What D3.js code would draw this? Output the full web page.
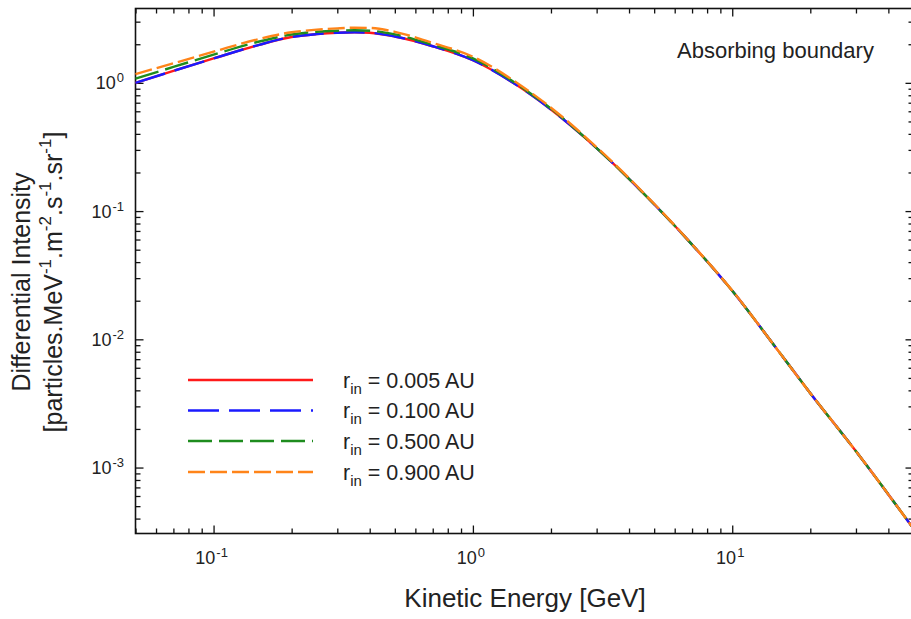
<!DOCTYPE html>
<html>
<head>
<meta charset="utf-8">
<script src="https://cdn.jsdelivr.net/npm/d3@7"></script>
<style>
  html, body { margin: 0; padding: 0; background: #fff; }
  svg { display: block; font-family: "Liberation Sans", Arial, sans-serif; }
</style>
</head>
<body>
<svg id="chart" width="911" height="619"></svg>
<script>
// ---------------- data ----------------
const energy = [0.05, 0.07, 0.1, 0.15, 0.2, 0.25, 0.3, 0.35, 0.4, 0.5, 0.7, 1.0, 1.5, 2.0, 3.0, 5.0, 7.0, 10, 15, 20, 30, 50];
const r005 = [1.00, 1.24, 1.55, 1.98, 2.28, 2.40, 2.46, 2.48, 2.46, 2.30, 1.93, 1.50, 0.94, 0.62, 0.31, 0.113, 0.0548, 0.0239, 0.0082, 0.0038, 0.00134, 0.000334];
const r100 = [1.00, 1.24, 1.55, 1.98, 2.28, 2.40, 2.46, 2.48, 2.46, 2.30, 1.93, 1.50, 0.94, 0.62, 0.31, 0.113, 0.0548, 0.0239, 0.0082, 0.0038, 0.00134, 0.000334];
const r500 = [1.08, 1.33, 1.66, 2.10, 2.38, 2.50, 2.55, 2.57, 2.55, 2.39, 1.98, 1.55, 0.96, 0.63, 0.31, 0.113, 0.0548, 0.0239, 0.0082, 0.0038, 0.00134, 0.000334];
const r900 = [1.17, 1.42, 1.75, 2.20, 2.48, 2.60, 2.66, 2.69, 2.68, 2.50, 2.05, 1.60, 0.98, 0.64, 0.315, 0.114, 0.0550, 0.0240, 0.0082, 0.0038, 0.00134, 0.000334];

const seriesNames = ["0.005", "0.100", "0.500", "0.900"];
const seriesValues = [r005, r100, r500, r900];
const seriesColors = ["#ff1a1a", "#1a1aff", "#1e8c1e", "#ff8419"];
const seriesDash = ["none", "31,10", "24,7", "17,5"];

const xTickValues = [0.1, 1, 10];
const xTickExp = ["-1", "0", "1"];
const yTickValues = [1e-3, 1e-2, 1e-1, 1];
const yTickExp = ["-3", "-2", "-1", "0"];

const xDomain = [0.05, 50];
const yDomain = [3.06e-4, 3.8];

// ---------------- layout ----------------
const L = 135.5, R = 913.5, T = 8.5, B = 533.5;
const svg = d3.select("#chart");

const x = d3.scaleLog().domain(xDomain).range([L, R]);
const y = d3.scaleLog().domain(yDomain).range([B, T]);

function minorTicks(domain) {
  const out = [];
  const lo = Math.floor(Math.log10(domain[0])), hi = Math.ceil(Math.log10(domain[1]));
  for (let e = lo; e <= hi; e++) {
    for (let m = 2; m <= 9; m++) {
      const v = m * Math.pow(10, e);
      if (v >= domain[0] && v <= domain[1]) out.push(v);
    }
  }
  return out;
}
const xMinor = minorTicks(xDomain);
const yMinor = minorTicks(yDomain);

const axisStyle = g => {
  g.select(".domain").remove();
  g.selectAll("line").attr("stroke", "#111").attr("stroke-width", 1.3);
};

// ticks (inward) on all four sides
svg.append("g").attr("transform", `translate(0,${B})`)
  .call(d3.axisBottom(x).tickValues(xTickValues).tickSize(-8).tickFormat("")).call(axisStyle);
svg.append("g").attr("transform", `translate(0,${B})`)
  .call(d3.axisBottom(x).tickValues(xMinor).tickSize(-5).tickFormat("")).call(axisStyle);
svg.append("g").attr("transform", `translate(0,${T})`)
  .call(d3.axisTop(x).tickValues(xTickValues).tickSize(-8).tickFormat("")).call(axisStyle);
svg.append("g").attr("transform", `translate(0,${T})`)
  .call(d3.axisTop(x).tickValues(xMinor).tickSize(-5).tickFormat("")).call(axisStyle);
svg.append("g").attr("transform", `translate(${L},0)`)
  .call(d3.axisLeft(y).tickValues(yTickValues).tickSize(-8).tickFormat("")).call(axisStyle);
svg.append("g").attr("transform", `translate(${L},0)`)
  .call(d3.axisLeft(y).tickValues(yMinor).tickSize(-5).tickFormat("")).call(axisStyle);
svg.append("g").attr("transform", `translate(${R},0)`)
  .call(d3.axisRight(y).tickValues(yTickValues).tickSize(-8).tickFormat("")).call(axisStyle);
svg.append("g").attr("transform", `translate(${R},0)`)
  .call(d3.axisRight(y).tickValues(yMinor).tickSize(-5).tickFormat("")).call(axisStyle);

// frame
svg.append("rect").attr("x", L).attr("y", T).attr("width", R - L).attr("height", B - T)
  .attr("fill", "none").attr("stroke", "#111").attr("stroke-width", 1.6);

// tick labels
const xl = svg.append("g").selectAll("text").data(xTickValues).join("text")
  .attr("x", d => x(d) - 2).attr("y", 564)
  .attr("text-anchor", "middle").attr("font-size", 18).attr("fill", "#222");
xl.append("tspan").text("10");
xl.append("tspan").attr("font-size", 13).attr("dx", 1).attr("dy", -7).text((d, i) => xTickExp[i]);

const yl = svg.append("g").selectAll("text").data(yTickValues).join("text")
  .attr("x", 124).attr("y", d => y(d) + 6.5)
  .attr("text-anchor", "end").attr("font-size", 18).attr("fill", "#222");
yl.append("tspan").text("10");
yl.append("tspan").attr("font-size", 13).attr("dx", 1).attr("dy", -7).text((d, i) => yTickExp[i]);

// curves
const line = d3.line().x(d => x(d[0])).y(d => y(d[1])).curve(d3.curveMonotoneX);
const plot = svg.append("g");
seriesValues.forEach((vals, i) => {
  plot.append("path")
    .datum(energy.map((e, k) => [e, vals[k]]))
    .attr("d", line)
    .attr("fill", "none")
    .attr("stroke", seriesColors[i])
    .attr("stroke-width", 2.4)
    .attr("stroke-dasharray", seriesDash[i]);
});

// legend
const legY = [380, 410.5, 441, 472];
const leg = svg.append("g");
seriesNames.forEach((name, i) => {
  leg.append("line")
    .attr("x1", 188).attr("x2", 313).attr("y1", legY[i]).attr("y2", legY[i])
    .attr("stroke", seriesColors[i]).attr("stroke-width", 2.4)
    .attr("stroke-dasharray", seriesDash[i]);
  const t = leg.append("text").attr("x", 343).attr("y", legY[i] + 7.5)
    .attr("font-size", 21.5).attr("fill", "#222");
  t.append("tspan").text("r");
  t.append("tspan").attr("font-size", 15).attr("dy", 6).text("in");
  t.append("tspan").attr("dy", -6).text(" = " + name + " AU");
});

// annotation
svg.append("text").attr("x", 677).attr("y", 58).attr("font-size", 22).attr("fill", "#222")
  .text("Absorbing boundary");

// axis titles
svg.append("text").attr("x", 525).attr("y", 607)
  .attr("text-anchor", "middle").attr("font-size", 26).attr("fill", "#222")
  .text("Kinetic Energy [GeV]");

const yt = svg.append("g").attr("transform", "translate(0,282) rotate(-90)");
yt.append("text").attr("x", 0).attr("y", 30).attr("text-anchor", "middle")
  .attr("font-size", 25).attr("fill", "#222").text("Differential Intensity");
const yt2 = yt.append("text").attr("x", 0).attr("y", 62).attr("text-anchor", "middle")
  .attr("font-size", 25).attr("fill", "#222");
const parts = [["[particles.MeV", null], ["-1", "sup"], [".m", null], ["-2", "sup"], [".s", null], ["-1", "sup"], [".sr", null], ["-1", "sup"], ["]", null]];
let raised = false;
parts.forEach(([txt, kind]) => {
  const ts = yt2.append("tspan").text(txt);
  if (kind === "sup") { ts.attr("font-size", 17).attr("dy", raised ? 0 : -11); raised = true; }
  else { ts.attr("dy", raised ? 11 : 0); raised = false; }
});
</script>
</body>
</html>
